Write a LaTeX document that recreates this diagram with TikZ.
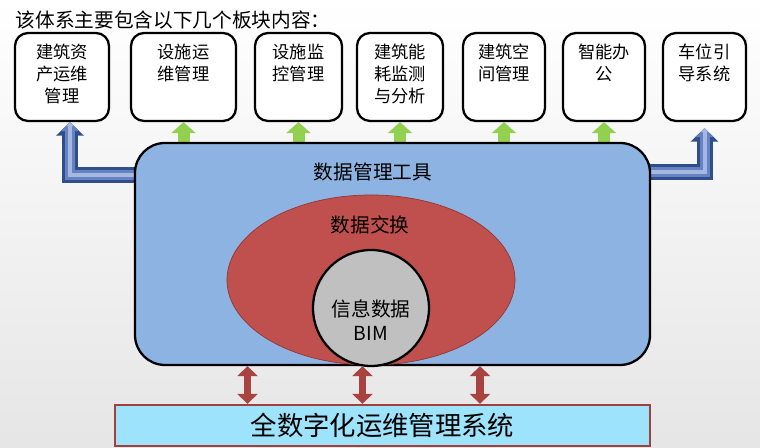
\documentclass[tikz,border=0pt]{standalone}
\usepackage{fontspec}
\setmainfont{Noto Sans CJK SC}
\usetikzlibrary{arrows.meta,shapes.geometric}
\definecolor{toolblue}{HTML}{8DB3E2}
\definecolor{exred}{HTML}{C0504D}
\definecolor{exredline}{HTML}{943634}
\definecolor{bimgray}{HTML}{C0C0C0}
\definecolor{sysfill}{HTML}{9DE3FB}
\definecolor{sysline}{HTML}{A0403F}
\definecolor{arrowgreen}{HTML}{92D050}
\definecolor{arrownavy}{HTML}{2F4E8C}
\definecolor{arrowmid}{HTML}{6782C0}
\definecolor{arrowlight}{HTML}{A6B8E0}
\definecolor{duplexred}{HTML}{A9433F}

\begin{document}
\begin{tikzpicture}[thick,
  topbox/.style={draw=black, line width=1.3pt, rounded corners=0.26cm, fill=white, minimum height=1.76cm, inner sep=0pt},
  boxtext/.style={anchor=north, align=center, inner sep=0pt, font=\fontsize{9.8}{12.5}\selectfont},
  uparrow/.style={draw=arrowgreen, line width=0.24cm, -{Triangle[width=0.48cm,length=0.22cm]}},
  elbow/.style={draw=arrownavy, line width=0.32cm, line join=miter, -{Triangle[width=0.54cm,length=0.27cm]},
    postaction={draw=arrowmid, line width=0.2cm, line join=miter, -{Triangle[width=0.34cm,length=0.18cm]}},
    postaction={draw=arrowlight, line width=0.08cm, line join=miter, -{Triangle[width=0.14cm,length=0.08cm]}}},
  duplex/.style={draw=duplexred, line width=0.15cm, {Triangle[width=0.4cm,length=0.2cm]}-{Triangle[width=0.4cm,length=0.2cm]}},
  midtext/.style={inner sep=0pt, font=\fontsize{11.2}{13}\selectfont}]
\useasboundingbox (0,0) rectangle (15.2,8.96);
\shade[top color=white, bottom color=black!10] (0,0) rectangle (15.2,8.96);

\node[anchor=west, inner sep=0pt, font=\fontsize{11.2}{13}\selectfont] (title) at (0.3,8.56) {该体系主要包含以下几个板块内容：};

\node[topbox, minimum width=1.88cm] (b1) at (1.24,7.42) {};
\node[topbox, minimum width=2.10cm] (b2) at (3.67,7.42) {};
\node[topbox, minimum width=1.74cm] (b3) at (5.97,7.42) {};
\node[topbox, minimum width=1.72cm] (b4) at (8.0,7.42) {};
\node[topbox, minimum width=1.64cm] (b5) at (10.08,7.42) {};
\node[topbox, minimum width=1.64cm] (b6) at (12.08,7.42) {};
\node[topbox, minimum width=1.66cm] (b7) at (14.09,7.42) {};
\node[boxtext] (t1) at ([yshift=-0.23cm]b1.north) {建筑资\\产运维\\管理};
\node[boxtext] (t2) at ([yshift=-0.23cm]b2.north) {设施运\\维管理};
\node[boxtext] (t3) at ([yshift=-0.23cm]b3.north) {设施监\\控管理};
\node[boxtext] (t4) at ([yshift=-0.23cm]b4.north) {建筑能\\耗监测\\与分析};
\node[boxtext] (t5) at ([yshift=-0.23cm]b5.north) {建筑空\\间管理};
\node[boxtext] (t6) at ([yshift=-0.23cm]b6.north) {智能办\\公};
\node[boxtext] (t7) at ([yshift=-0.23cm]b7.north) {车位引\\导系统};

\node[draw=sysline, line width=1.3pt, fill=sysfill, minimum width=10.7cm, minimum height=0.82cm, inner sep=0pt,
  font=\fontsize{15}{18}\selectfont] (sys) at (7.65,0.45) {全数字化运维管理系统};

\coordinate (lbend) at (1.4,5.45);
\coordinate (rbend) at (14.09,5.51);
\coordinate (tooltop) at (7.85,6.1);
\draw[elbow] (lbend -| tooltop) -- (lbend) -- (lbend |- b1.south);
\draw[elbow, shorten >=0.12cm] (rbend -| tooltop) -- (rbend) -- (rbend |- b7.south);
\draw[uparrow] (b2.south |- tooltop) -- (b2.south);
\draw[uparrow] (b3.south |- tooltop) -- (b3.south);
\draw[uparrow] (b4.south |- tooltop) -- (b4.south);
\draw[uparrow] (b5.south |- tooltop) -- (b5.south);
\draw[uparrow] (b6.south |- tooltop) -- (b6.south);

\node[draw=black, line width=1.3pt, fill=toolblue, rounded corners=0.6cm, minimum width=10.3cm, minimum height=4.44cm, inner sep=0pt] (tool) at (7.85,3.88) {};
\node[midtext] (toollabel) at (7.46,5.52) {数据管理工具};

\node[ellipse, draw=exredline, thin, fill=exred, minimum width=5.76cm, minimum height=3.4cm, inner sep=0pt] (xchg) at (7.42,3.36) {};
\node[midtext] (xchglabel) at (7.4,4.46) {数据交换};

\node[circle, draw=black, line width=1.3pt, fill=bimgray, minimum size=2.32cm, inner sep=0pt] (bim) at (7.42,2.8) {};
\node[midtext] (bimlabel) at (7.42,2.78) {信息数据};
\node[inner sep=0pt, font=\fontsize{11}{13}\selectfont] (bimname) at (7.42,2.3) {BIM};

\coordinate (p1) at (4.95,1);
\coordinate (p2) at (7.25,1);
\coordinate (p3) at (9.6,1);
\draw[duplex] (p1 |- sys.north) -- (p1 |- tool.south);
\draw[duplex] (p2 |- sys.north) -- (p2 |- tool.south);
\draw[duplex] (p3 |- sys.north) -- (p3 |- tool.south);
\end{tikzpicture}
\end{document}
